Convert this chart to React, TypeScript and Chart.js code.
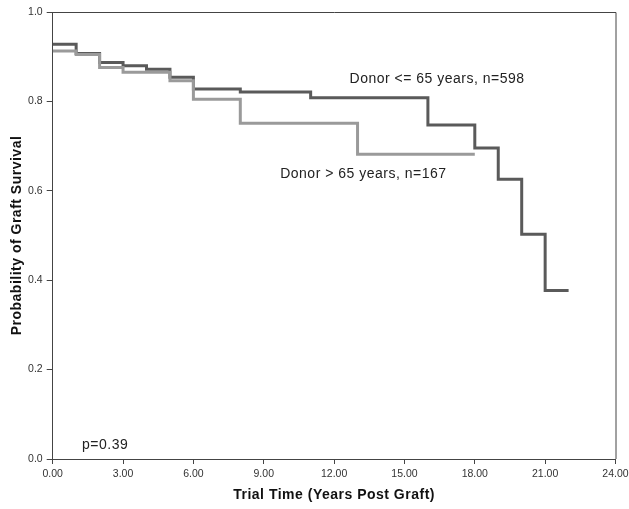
import React, { useEffect, useRef } from "react";
import { Chart, registerables } from "chart.js";

Chart.register(...registerables);

// Donor <= 65 years (time in years, survival from that time on)
const youngTimes = [0, 1, 2, 3, 4, 5, 6, 8, 11, 16, 18, 19, 20, 21, 22];
const youngSurv = [0.928, 0.907, 0.887, 0.88, 0.872, 0.854, 0.828, 0.821, 0.808, 0.747, 0.696, 0.626, 0.503, 0.377, 0.377];

// Donor > 65 years
const oldTimes = [0, 1, 2, 3, 5, 6, 8, 13, 18];
const oldSurv = [0.913, 0.905, 0.876, 0.865, 0.846, 0.805, 0.751, 0.682, 0.682];

const xTicks = [0, 3, 6, 9, 12, 15, 18, 21, 24];
const yTicks = [0, 0.2, 0.4, 0.6, 0.8, 1.0];

const xTitle = "Trial Time (Years Post Graft)";
const yTitle = "Probability of Graft Survival";

const labels = [
  { text: "Donor <= 65 years, n=598", x: 12.66, y: 0.85 },
  { text: "Donor > 65 years, n=167", x: 9.7, y: 0.638 },
  { text: "p=0.39", x: 1.25, y: 0.031 },
];

const FONT = "'Liberation Sans', Arial, sans-serif";

export default function App() {
  const ref = useRef<HTMLCanvasElement | null>(null);

  useEffect(() => {
    document.body.style.margin = "0";
    const canvas = ref.current;
    if (!canvas) return;

    const boxPlugin = {
      id: "boxAndLabels",
      afterDatasetsDraw(chart: any) {
        const { ctx, chartArea, scales } = chart;
        ctx.save();
        ctx.strokeStyle = "#444444";
        ctx.lineWidth = 1;
        ctx.beginPath();
        ctx.moveTo(chartArea.left, chartArea.top + 0.5);
        ctx.lineTo(chartArea.right + 0.5, chartArea.top + 0.5);
        ctx.lineTo(chartArea.right + 0.5, chartArea.bottom);
        ctx.stroke();

        ctx.letterSpacing = "0.5px";
        ctx.fillStyle = "#222222";
        ctx.font = `14px ${FONT}`;
        ctx.textBaseline = "middle";
        ctx.textAlign = "left";
        for (const l of labels) {
          ctx.fillText(l.text, scales.x.getPixelForValue(l.x), scales.y.getPixelForValue(l.y));
        }

        ctx.fillStyle = "#111111";
        ctx.font = `bold 14px ${FONT}`;
        ctx.textAlign = "center";
        ctx.fillText(xTitle, (chartArea.left + chartArea.right) / 2, 495);
        ctx.translate(17, (chartArea.top + chartArea.bottom) / 2);
        ctx.rotate(-Math.PI / 2);
        ctx.fillText(yTitle, 0, 0);
        ctx.restore();
      },
    };

    const chart = new Chart(canvas, {
      type: "line",
      data: {
        datasets: [
          {
            label: "Donor > 65 years, n=167",
            data: oldTimes.map((t, i) => ({ x: t, y: oldSurv[i] })),
            borderColor: "#9a9a9a",
            borderWidth: 3,
            stepped: true,
            pointRadius: 0,
            fill: false,
            order: 0,
          },
          {
            label: "Donor <= 65 years, n=598",
            data: youngTimes.map((t, i) => ({ x: t, y: youngSurv[i] })),
            borderColor: "#5a5a5a",
            borderWidth: 3,
            stepped: true,
            pointRadius: 0,
            fill: false,
            order: 1,
          },
        ],
      },
      options: {
        animation: false,
        responsive: false,
        maintainAspectRatio: false,
        layout: { padding: { top: 12, right: 13.5, left: 0, bottom: 0 } },
        plugins: { legend: { display: false }, tooltip: { enabled: false } },
        scales: {
          x: {
            type: "linear",
            min: 0,
            max: 24,
            afterBuildTicks: (s: any) => {
              s.ticks = xTicks.map((v) => ({ value: v }));
            },
            afterFit: (s: any) => {
              s.height = 50;
              s.paddingLeft = 0;
              s.paddingRight = 0;
            },
            grid: { display: true, drawOnChartArea: false, drawTicks: true, tickLength: 5, color: "#444444" },
            border: { display: true, color: "#444444", width: 1 },
            ticks: {
              color: "#333333",
              font: { family: FONT, size: 10.5 },
              padding: 4,
              maxRotation: 0,
              autoSkip: false,
              callback: (v: any) => Number(v).toFixed(2),
            },
          },
          y: {
            type: "linear",
            min: 0,
            max: 1,
            afterBuildTicks: (s: any) => {
              s.ticks = yTicks.map((v) => ({ value: v }));
            },
            afterFit: (s: any) => {
              s.width = 52.7;
              s.paddingTop = 0;
              s.paddingBottom = 0;
            },
            grid: { display: true, drawOnChartArea: false, drawTicks: true, tickLength: 6, color: "#444444" },
            border: { display: true, color: "#444444", width: 1 },
            ticks: {
              color: "#333333",
              font: { family: FONT, size: 10.5 },
              padding: 4,
              autoSkip: false,
              callback: (v: any) => Number(v).toFixed(1),
            },
          },
        },
      },
      plugins: [boxPlugin],
    });

    return () => chart.destroy();
  }, []);

  return (
    <div style={{ position: "absolute", left: 0, top: 0, width: 629, height: 509, background: "#ffffff" }}>
      <canvas ref={ref} width={629} height={509} style={{ width: 629, height: 509, display: "block" }} />
    </div>
  );
}
